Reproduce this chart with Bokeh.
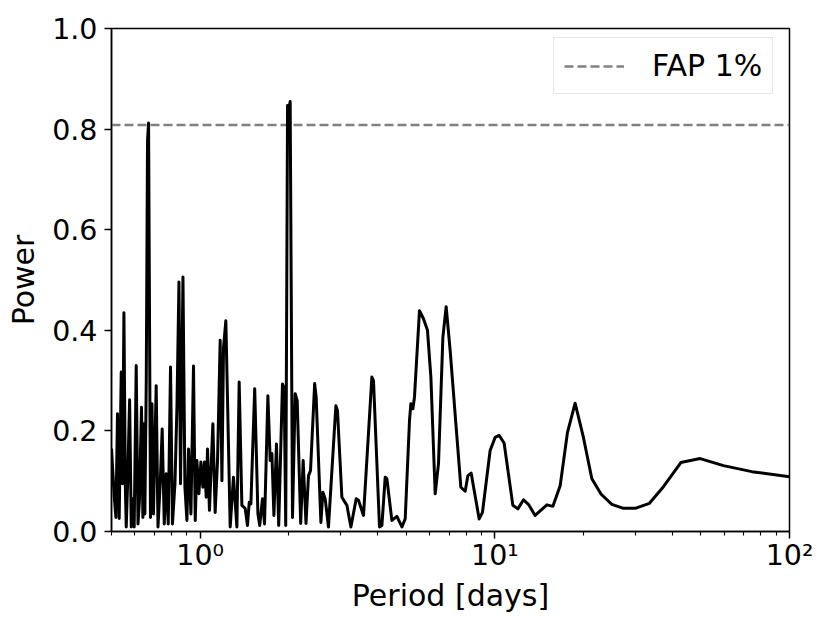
from bokeh.plotting import figure
from bokeh.models import FixedTicker, Legend, LegendItem, NumeralTickFormatter
from bokeh.embed import file_html
from bokeh.resources import INLINE

# ---- data ----
period = [0.5, 0.511, 0.5175, 0.524, 0.531, 0.5395, 0.545, 0.551, 0.557, 0.561,
          0.567, 0.576, 0.5835, 0.591, 0.597, 0.6065, 0.615, 0.622, 0.632, 0.639,
          0.644, 0.649, 0.656, 0.6625, 0.668, 0.678, 0.686, 0.694, 0.709, 0.719,
          0.732, 0.743, 0.755, 0.767, 0.779, 0.793, 0.805, 0.821, 0.834, 0.847,
          0.8575, 0.874, 0.8875, 0.9015, 0.913, 0.930, 0.949, 0.962, 0.9745, 0.990,
          1.0055, 1.021, 1.034, 1.048, 1.059, 1.075, 1.104, 1.124, 1.145, 1.169,
          1.185, 1.200, 1.222, 1.247, 1.264, 1.297, 1.332, 1.356, 1.385, 1.421,
          1.447, 1.467, 1.486, 1.531, 1.570, 1.592, 1.627, 1.653, 1.697, 1.728,
          1.751, 1.779, 1.815, 1.847, 1.902, 1.928, 1.951, 1.979, 2.000, 2.020,
          2.057, 2.101, 2.134, 2.193, 2.236, 2.286, 2.331, 2.368, 2.446, 2.475,
          2.568, 2.608, 2.656, 2.725, 2.887, 2.924, 3.026, 3.147, 3.247, 3.384,
          3.445, 3.583, 3.825, 3.874, 4.060, 4.137, 4.245, 4.301, 4.472, 4.651,
          4.837, 4.963, 5.133, 5.188, 5.270, 5.336, 5.549, 5.725, 5.907, 6.066,
          6.273, 6.438, 6.662, 6.835, 7.052, 7.391, 7.667, 7.930, 8.099, 8.311,
          8.846, 9.077, 9.638, 10.02, 10.34, 10.75, 11.51, 11.97, 12.51, 13.00,
          13.70, 15.02, 15.74, 16.66, 17.64, 18.73, 19.98, 21.34, 22.95, 24.95,
          27.32, 29.93, 33.47, 37.34, 42.78, 49.74, 59.68, 74.49, 100.0]

power = [0.165, 0.068, 0.028, 0.234, 0.026, 0.317, 0.095, 0.435, 0.095, 0.009,
         0.095, 0.262, 0.009, 0.065, 0.009, 0.330, 0.015, 0.062, 0.247, 0.028,
         0.214, 0.035, 0.297, 0.777, 0.812, 0.028, 0.254, 0.035, 0.290, 0.009,
         0.098, 0.204, 0.015, 0.115, 0.015, 0.327, 0.015, 0.095, 0.250, 0.496,
         0.095, 0.506, 0.088, 0.022, 0.164, 0.035, 0.329, 0.022, 0.141, 0.075,
         0.138, 0.088, 0.138, 0.068, 0.164, 0.042, 0.214, 0.038, 0.141, 0.380,
         0.101, 0.366, 0.419, 0.174, 0.009, 0.108, 0.009, 0.297, 0.052, 0.046,
         0.012, 0.058, 0.055, 0.284, 0.035, 0.012, 0.065, 0.015, 0.270, 0.141,
         0.155, 0.032, 0.174, 0.012, 0.293, 0.284, 0.012, 0.847, 0.840, 0.855,
         0.028, 0.274, 0.260, 0.016, 0.141, 0.016, 0.111, 0.121, 0.294, 0.267,
         0.018, 0.078, 0.065, 0.009, 0.250, 0.240, 0.068, 0.052, 0.009, 0.065,
         0.062, 0.032, 0.307, 0.300, 0.009, 0.012, 0.108, 0.105, 0.022, 0.030,
         0.009, 0.025, 0.221, 0.254, 0.244, 0.267, 0.439, 0.423, 0.400, 0.307,
         0.075, 0.135, 0.386, 0.447, 0.360, 0.207, 0.088, 0.080, 0.111, 0.116,
         0.025, 0.038, 0.161, 0.187, 0.191, 0.176, 0.052, 0.045, 0.063, 0.054,
         0.032, 0.053, 0.050, 0.091, 0.197, 0.255, 0.187, 0.105, 0.074, 0.054,
         0.046, 0.046, 0.056, 0.089, 0.137, 0.145, 0.131, 0.119, 0.109]

fap_level = 0.808
fap_label = "FAP 1%"
x_limits = [0.5, 100]
y_limits = [0.0, 1.0]
x_major_ticks = [1, 10, 100]
x_tick_labels = ["10\u2070", "10\u00b9", "10\u00b2"]
x_minor_ticks = [m * 10.0 ** k for k in (-1, 0, 1) for m in range(2, 10)]
y_ticks = [0.0, 0.2, 0.4, 0.6, 0.8, 1.0]

FONT = "DejaVu Sans"
FS_TICK = "28.5px"
FS_LABEL = "30px"

p = figure(x_axis_type="log", x_range=(x_limits[0], x_limits[1]),
           y_range=(y_limits[0], y_limits[1]),
           frame_width=678, frame_height=503,
           min_border_left=111, min_border_right=25,
           min_border_top=28, min_border_bottom=80,
           output_backend="svg", toolbar_location=None)

p.background_fill_color = "white"
p.border_fill_color = "white"
p.outline_line_color = "black"
p.outline_line_width = 1.5
p.outline_line_alpha = 1.0
p.xgrid.visible = False
p.ygrid.visible = False

fap = p.line(x=x_limits, y=[fap_level, fap_level], line_color="gray",
             line_width=2.5, line_dash="9 4")
p.line(x=period, y=power, line_color="black", line_width=3,
       line_join="round")

for ax in (p.xaxis[0], p.yaxis[0]):
    ax.axis_line_color = "black"
    ax.axis_line_width = 1.5
    ax.major_tick_line_color = "black"
    ax.major_tick_line_width = 1.5
    ax.major_tick_in = 0
    ax.major_tick_out = 7
    ax.minor_tick_line_color = "black"
    ax.minor_tick_line_width = 1.1
    ax.minor_tick_in = 0
    ax.minor_tick_out = 4
    ax.major_label_text_font = FONT
    ax.major_label_text_font_size = FS_TICK
    ax.major_label_text_color = "black"
    ax.axis_label_text_font = FONT
    ax.axis_label_text_font_size = FS_LABEL
    ax.axis_label_text_font_style = "normal"
    ax.axis_label_text_color = "black"

p.xaxis.ticker = FixedTicker(ticks=x_major_ticks, minor_ticks=x_minor_ticks)
p.xaxis.major_label_overrides = {t: l for t, l in zip(x_major_ticks, x_tick_labels)}
p.xaxis.major_label_standoff = 0
p.xaxis.axis_label = "Period [days]"
p.xaxis.axis_label_standoff = 3

p.yaxis.ticker = FixedTicker(ticks=y_ticks)
p.yaxis.formatter = NumeralTickFormatter(format="0.0")
p.yaxis.minor_tick_line_color = None
p.yaxis.major_label_standoff = 7
p.yaxis.axis_label = "Power"
p.yaxis.axis_label_standoff = 8

legend = Legend(items=[LegendItem(label=fap_label, renderers=[fap])],
                location=(442, 437),
                label_text_font=FONT, label_text_font_size=FS_LABEL,
                label_text_color="black",
                glyph_width=60, glyph_height=28, label_standoff=28,
                padding=10, margin=0, spacing=0,
                border_line_color="#cccccc", border_line_width=1.5,
                background_fill_color="white", background_fill_alpha=0.8)
p.add_layout(legend)

open("out.html", "w").write(file_html(p, INLINE))
